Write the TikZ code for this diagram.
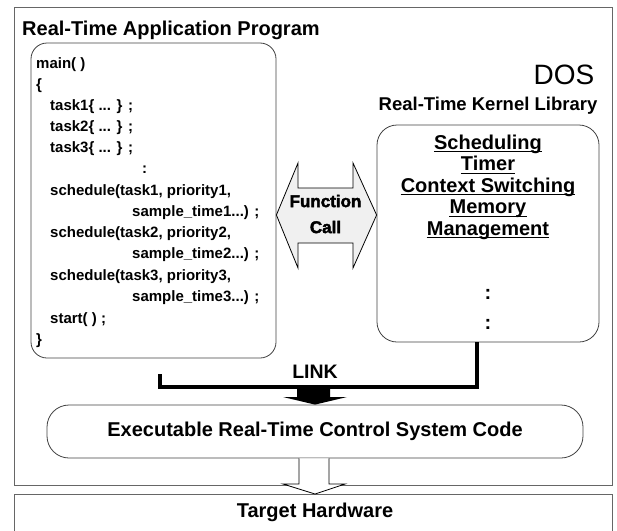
\documentclass[tikz,border=0pt]{standalone}
\usepackage{fontspec}
\setmainfont{Liberation Sans}
\newfontfamily\heavyfont[FakeBold=2.5]{Liberation Sans Bold}
\begin{document}
\begin{tikzpicture}[x=1pt,y=-1pt,
  frame/.style={draw=black!60, line width=0.8pt, inner sep=0pt},
  rbox/.style={draw=black!75, line width=0.8pt, rounded corners=#1, inner sep=0pt},
  code/.style={anchor=base west, inner sep=0pt, font=\fontsize{15}{18}\selectfont\bfseries},
  item/.style={anchor=base, inner sep=0pt, font=\fontsize{20}{24}\selectfont\bfseries},
  ttl/.style={inner sep=0pt, font=\fontsize{20}{24}\selectfont\bfseries},
  ulline/.style={line width=1.1pt},
  linkline/.style={line width=4pt, line join=miter}
]
\useasboundingbox (0,0) rectangle (617,530);

% frames
\node[frame, minimum width=598pt, minimum height=478pt] (dos) at (313,246) {};
\draw[black!60, line width=0.8pt] (14,560) -- (14,494) -- (612,494) -- (612,560);
\coordinate (tgttop) at (315,494);
\node[ttl] (hw) at (315,512) {Target Hardware};

% titles
\node[ttl, anchor=base west] (apptitle) at (22,35) {Real-Time Application Program};
\node[inner sep=0pt, font=\fontsize{28}{32}\selectfont] (dostitle) at (564,75) {DOS};
\node[inner sep=0pt, font=\fontsize{18.5}{22}\selectfont\bfseries] (kertitle) at (488,106) {Real-Time Kernel Library};

% application program box
\node[rbox=16pt, minimum width=245pt, minimum height=315pt] (app) at (153.5,200.5) {};
\node[code] (c1)  at (36,68.5)  {main( )};
\node[code] (c2)  at (36,89.5)  {\{};
\node[code] (c3)  at (50,110.5) {task1\{ ... \} ;};
\node[code] (c4)  at (50,131.5) {task2\{ ... \} ;};
\node[code] (c5)  at (50,152.5) {task3\{ ... \} ;};
\node[code] (c6)  at (142,173.5) {:};
\node[code] (c7)  at (50,195) {schedule(task1, priority1,};
\node[code] (c8)  at (132,216) {sample\_time1...) ;};
\node[code] (c9)  at (50,237.5) {schedule(task2, priority2,};
\node[code] (c10) at (132,258.5) {sample\_time2...) ;};
\node[code] (c11) at (50,280) {schedule(task3, priority3,};
\node[code] (c12) at (132,301.5) {sample\_time3...) ;};
\node[code] (c13) at (50,323) {start( ) ;};
\node[code] (c14) at (36,344) {\}};

% kernel library box
\node[rbox=20pt, minimum width=222pt, minimum height=217pt] (kern) at (488,233.5) {};
\node[item] (k1) at (488,149) {Scheduling};
\node[item] (k2) at (488,170.5) {Timer};
\node[item] (k3) at (488,192) {Context Switching};
\node[item] (k4) at (488,213.5) {Memory};
\node[item] (k5) at (488,235) {Management};
\foreach \k in {k1,k2,k3,k4,k5}
  \draw[ulline] ([yshift=-2.6pt]\k.base west) -- ([yshift=-2.6pt]\k.base east);
\node[item] (kd1) at (488,299) {:};
\node[item] (kd2) at (488,329) {:};

% function call double arrow
\coordinate (fcl) at (app.east |- 0,215);
\coordinate (fcr) at (kern.west |- 0,215);
\draw[black, line width=0.8pt, fill=black!6]
  (fcl) -- (298,163) -- (298,188) -- (353,188) -- (353,163) -- (fcr)
  -- (353,268) -- (353,243) -- (298,243) -- (298,268) -- cycle;
\node[inner sep=0pt, align=center, font=\fontsize{17}{26}\selectfont\heavyfont] (fc) at (325.5,214) {Function\\Call};

% executable code box
\node[rbox=22pt, minimum width=536pt, minimum height=53pt] (exec) at (315,431.5) {};
\node[ttl] (exectext) at (315,431) {Executable Real-Time Control System Code};

% LINK connector
\coordinate (linkL) at (160,374);
\coordinate (linkR) at (477,387);
\draw[linkline] (linkL) -- (linkL |- linkR) -- (linkR) -- (kern.south -| linkR);
\node[inner sep=0pt, font=\fontsize{19.5}{22}\selectfont\bfseries] (link) at (315,372) {LINK};
\fill[black] (297,387) -- (330,387) -- (330,397) -- (347,397) -- (exec.north) -- (283,397) -- (297,397) -- cycle;

% hollow arrow exec -> target hardware
\draw[black, line width=0.8pt, fill=white]
  (299,458.4) -- (299,484) -- (283,484) -- (tgttop) -- (345,484) -- (329,484) -- (329,458.4);
\end{tikzpicture}
\end{document}
